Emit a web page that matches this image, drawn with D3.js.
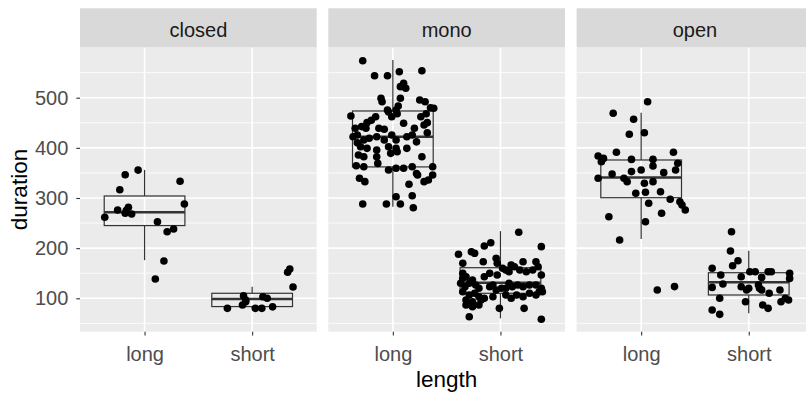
<!DOCTYPE html>
<html>
<head>
<meta charset="utf-8">
<script src="https://cdn.jsdelivr.net/npm/d3@7"></script>
<style>
  body { margin: 0; background: #fff; }
  text { font-family: "Liberation Sans", Arial, sans-serif; }
</style>
</head>
<body>
<svg width="806" height="393"></svg>
<script>
const facets = ['closed', 'mono', 'open'];
const lengths = ['long', 'short'];
const yTicks = [100, 200, 300, 400, 500];
const yMinor = [50, 150, 250, 350, 450, 550];

// each point: [jitter offset in category units, duration]
const closedLong = [
  [-0.06, 355.6], [-0.18, 346.5], [-0.23, 316.6], [0.33, 333.3], [0.37, 288],
  [-0.25, 276], [-0.15, 281.5], [-0.18, 269.5], [-0.12, 268], [-0.37, 261.5],
  [0.12, 252.7], [0.21, 232.8], [0.27, 238.2], [0.18, 174.4], [0.10, 138.5],
  [-0.17, 275]
];
const closedShort = [
  [-0.23, 80], [-0.09, 86.6], [-0.08, 105], [-0.06, 93], [-0.06, 96.6],
  [0.03, 80], [0.09, 80], [0.10, 103], [0.14, 100], [0.19, 83],
  [0.33, 152], [0.35, 158.4], [0.38, 122.5]
];
const monoLong = [
  [-0.28, 573.8], [-0.17, 543.9], [-0.05, 543.9], [0.06, 551.8], [0.27, 553.8],
  [0.07, 522], [0.10, 528.7], [0.12, 518.8], [0.07, 498.8], [-0.11, 498.8],
  [-0.10, 492], [0.05, 483.4], [0.03, 475.5], [0.25, 495.4], [0.30, 492],
  [0.38, 478.9], [0.35, 480], [-0.39, 463.5], [-0.16, 462], [-0.05, 475.5],
  [-0.01, 462], [-0.04, 471.5], [0.04, 468], [0.31, 468], [0.26, 462],
  [0.10, 449], [-0.24, 450.3], [-0.29, 442.4], [-0.25, 439], [-0.35, 439],
  [-0.13, 439], [-0.08, 437], [0.20, 439], [0.29, 445.6], [0.32, 450.3],
  [-0.37, 422.2], [-0.33, 425.6], [-0.27, 415.6], [-0.22, 419], [-0.15, 422],
  [-0.08, 415.6], [-0.01, 425.6], [0.03, 415.6], [0.13, 422], [0.18, 425.6],
  [-0.30, 402.3], [-0.24, 399], [-0.15, 395.7], [-0.04, 402.3], [0.03, 399],
  [0.13, 399], [-0.32, 385.7], [-0.27, 382.4], [-0.15, 382.4], [-0.02, 389],
  [0.04, 392.3], [0.27, 382.4], [-0.14, 369], [-0.27, 362.4], [-0.34, 364.4],
  [-0.04, 355.8], [0.03, 359.2], [0.10, 359.2], [0.18, 362.4], [0.37, 362.4],
  [-0.31, 339.3], [-0.26, 332.6], [0.23, 345.9], [0.29, 332.6], [0.33, 336],
  [0.37, 345.9], [0.15, 327.3], [-0.28, 288], [-0.06, 288], [0.07, 288],
  [0.19, 280.6], [0.18, 304.6], [0.03, 302.6], [0.32, 430], [0.22, 412],
  [-0.20, 455], [-0.33, 410], [0.22, 349]
];
const monoShort = [
  [0.17, 231.6], [0.38, 203], [-0.09, 210.9], [-0.15, 204.3], [-0.27, 192.9],
  [-0.24, 189.7], [-0.39, 187.7], [-0.16, 173], [-0.04, 179.8], [-0.03, 169.8],
  [0.21, 173], [-0.35, 169.8], [0.33, 173], [0.35, 163], [0.10, 166.4],
  [0.13, 163], [0.02, 159.8], [0.05, 156.4], [0.08, 153], [0.18, 156.4],
  [0.24, 153], [0.30, 156.4], [-0.35, 149.8], [-0.32, 143], [-0.10, 149.8],
  [-0.15, 143], [-0.03, 146.5], [0.38, 146.5], [-0.37, 130], [-0.33, 123],
  [-0.29, 130], [-0.26, 136.5], [-0.23, 126.5], [-0.20, 120], [-0.10, 123],
  [-0.07, 126.5], [-0.04, 116.6], [0.01, 120], [0.05, 120], [0.08, 130],
  [0.11, 123], [0.16, 126.5], [0.21, 123], [0.27, 126.5], [0.33, 126.5],
  [0.38, 120], [0.39, 113], [-0.35, 113], [-0.29, 106.6], [-0.24, 110],
  [-0.20, 103.2], [-0.15, 100], [-0.32, 96.6], [-0.26, 93.2], [-0.18, 96.6],
  [0.05, 106.6], [0.10, 100], [0.15, 106.6], [0.21, 103.2], [0.27, 110],
  [0.33, 106.6], [0.36, 113], [-0.32, 86.6], [-0.26, 83.3], [-0.20, 86.6],
  [-0.01, 80], [0.22, 80], [-0.29, 63.3], [0.38, 58.1], [-0.07, 103],
  [-0.35, 140]
];
const openLong = [
  [0.06, 492], [-0.26, 468.9], [-0.07, 456.9], [-0.11, 427], [0.03, 430.2],
  [-0.23, 391.1], [0.30, 391.1], [-0.40, 383.7], [-0.37, 372.4], [-0.35, 379],
  [-0.09, 377], [0.11, 377], [0.11, 363.7], [0.34, 369.2], [0.32, 355.8],
  [-0.40, 339.3], [-0.27, 347.9], [-0.09, 352.6], [0.00, 355.8], [0.21, 350.5],
  [-0.16, 339.3], [-0.13, 332.6], [-0.05, 309.4], [0.03, 329.3], [0.04, 311.4],
  [0.11, 332.6], [0.18, 312.6], [0.27, 297.4], [0.36, 292.6], [0.38, 286],
  [0.41, 276], [0.07, 289.4], [0.19, 269.5], [-0.30, 262.7], [0.04, 252.7],
  [-0.20, 216.3], [0.15, 116.6], [0.31, 123.3]
];
const openShort = [
  [-0.16, 232.8], [-0.17, 194.3], [-0.10, 175], [-0.15, 165], [-0.34, 159.8],
  [-0.26, 146.5], [-0.24, 128.5], [-0.34, 121.7], [-0.07, 143], [-0.07, 123],
  [-0.02, 116.6], [0.01, 153], [0.06, 153], [0.12, 141.7], [0.10, 120],
  [0.18, 153], [0.21, 153], [0.38, 149.8], [0.38, 139.7], [0.19, 110],
  [-0.27, 100], [-0.03, 93.2], [0.13, 86.6], [0.18, 80], [0.30, 93.2],
  [0.34, 100], [-0.34, 76.7], [-0.27, 68], [0.00, 120], [0.09, 126.5],
  [0.12, 116.6], [0.29, 116.6], [0.37, 96.6]
];

// box summaries: [lower whisker, q1, median, q3, upper whisker]
const closedBox = [[176, 245, 271.5, 304, 356], [80, 83.5, 98.6, 110, 123]];
const monoBox = [[282.6, 362, 422, 473.5, 575], [60, 110, 131, 161, 234]];
const openBox = [[218, 300.6, 341, 375.8, 470], [70, 106.6, 132, 151, 195]];

const points = { closed: [closedLong, closedShort], mono: [monoLong, monoShort], open: [openLong, openShort] };
const boxes = { closed: closedBox, mono: monoBox, open: openBox };

const svg = d3.select('svg');
const width = +svg.attr('width');
const height = +svg.attr('height');

const panelTop = 47.3;
const panelBottom = 331.7;
const panelW = 236.7;
const gap = 11.6;
const stripTop = 8.3;

const yScale = d3.scaleLinear()
  .domain([33.4, 600.5])
  .range([panelBottom, panelTop]);

const xFacet = d3.scaleBand()
  .domain(facets)
  .range([80, 80 + 3 * panelW + 2 * gap])
  .paddingInner(gap / (panelW + gap));

const xScale = d3.scalePoint()
  .domain(lengths)
  .range([0, panelW])
  .padding(0.6);

const unit = xScale.step();
const boxHalf = 0.375 * unit;

facets.forEach(f => {
  const g = svg.append('g')
    .attr('transform', `translate(${xFacet(f)},0)`);

  // panel background + grid
  g.append('rect')
    .attr('x', 0).attr('y', panelTop)
    .attr('width', panelW).attr('height', panelBottom - panelTop)
    .attr('fill', '#EBEBEB');

  g.selectAll('.minor').data(yMinor)
    .enter().append('line')
      .attr('x1', 0).attr('x2', panelW)
      .attr('y1', d => yScale(d)).attr('y2', d => yScale(d))
      .attr('stroke', '#fff').attr('stroke-width', 0.8);

  g.selectAll('.major').data(yTicks)
    .enter().append('line')
      .attr('x1', 0).attr('x2', panelW)
      .attr('y1', d => yScale(d)).attr('y2', d => yScale(d))
      .attr('stroke', '#fff').attr('stroke-width', 1.6);

  g.selectAll('.vgrid').data(lengths)
    .enter().append('line')
      .attr('x1', d => xScale(d)).attr('x2', d => xScale(d))
      .attr('y1', panelTop).attr('y2', panelBottom)
      .attr('stroke', '#fff').attr('stroke-width', 1.6);

  // strip
  g.append('rect')
    .attr('x', 0).attr('y', stripTop)
    .attr('width', panelW).attr('height', panelTop - stripTop)
    .attr('fill', '#D9D9D9');

  g.append('text')
    .attr('x', panelW / 2).attr('y', 37)
    .attr('text-anchor', 'middle')
    .attr('font-size', 20)
    .attr('fill', '#1A1A1A')
    .text(f);

  // boxplots
  boxes[f].forEach((b, i) => {
    const cx = xScale(lengths[i]);
    const [lo, q1, med, q3, hi] = b;
    const bg = g.append('g').attr('stroke', '#333333').attr('fill', 'none');
    bg.append('line')
      .attr('x1', cx).attr('x2', cx)
      .attr('y1', yScale(hi)).attr('y2', yScale(q3))
      .attr('stroke-width', 1.2);
    bg.append('line')
      .attr('x1', cx).attr('x2', cx)
      .attr('y1', yScale(q1)).attr('y2', yScale(lo))
      .attr('stroke-width', 1.2);
    bg.append('rect')
      .attr('x', cx - boxHalf).attr('y', yScale(q3))
      .attr('width', 2 * boxHalf).attr('height', yScale(q1) - yScale(q3))
      .attr('stroke-width', 1.2);
    bg.append('line')
      .attr('x1', cx - boxHalf).attr('x2', cx + boxHalf)
      .attr('y1', yScale(med)).attr('y2', yScale(med))
      .attr('stroke-width', 2.4);
  });

  // jittered points
  points[f].forEach((pts, i) => {
    const cx = xScale(lengths[i]);
    g.selectAll(null).data(pts)
      .enter().append('circle')
        .attr('cx', d => cx + d[0] * unit)
        .attr('cy', d => yScale(d[1]))
        .attr('r', 3.8)
        .attr('fill', '#000');
  });

  // x axis
  const xAxisG = g.append('g')
    .attr('transform', `translate(0,${panelBottom})`)
    .call(d3.axisBottom(xScale).tickSize(3.7).tickPadding(11.4));
  xAxisG.select('.domain').remove();
  xAxisG.selectAll('line').attr('stroke', '#333333').attr('stroke-width', 1.1);
  xAxisG.selectAll('text')
    .attr('font-size', 20)
    .attr('font-family', '"Liberation Sans", Arial, sans-serif')
    .attr('fill', '#4D4D4D');
});

// y axis on the first panel
const yAxisG = svg.append('g')
  .attr('transform', `translate(${xFacet(facets[0])},0)`)
  .call(d3.axisLeft(yScale).tickValues(yTicks).tickSize(3.7).tickPadding(8));
yAxisG.select('.domain').remove();
yAxisG.selectAll('line').attr('stroke', '#333333').attr('stroke-width', 1.1);
yAxisG.selectAll('text')
  .attr('font-size', 20)
  .attr('font-family', '"Liberation Sans", Arial, sans-serif')
  .attr('fill', '#4D4D4D');

// axis titles
svg.append('text')
  .attr('transform', `translate(27,${(panelTop + panelBottom) / 2}) rotate(-90)`)
  .attr('text-anchor', 'middle')
  .attr('font-size', 22.5)
  .attr('fill', '#000')
  .text('duration');

svg.append('text')
  .attr('x', 80 + (3 * panelW + 2 * gap) / 2)
  .attr('y', 386.5)
  .attr('text-anchor', 'middle')
  .attr('font-size', 22.5)
  .attr('fill', '#000')
  .text('length');
</script>
</body>
</html>
